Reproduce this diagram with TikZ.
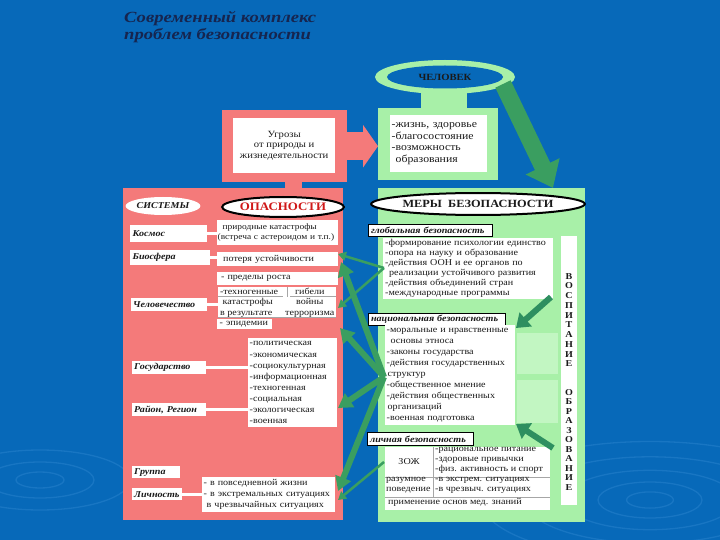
\documentclass[tikz,border=0pt]{standalone}
\usepackage{fontspec}
\setmainfont{Liberation Serif}
\newfontfamily\bodyff[FakeStretch=1.12]{Liberation Serif}
\newfontfamily\ttlff[FakeStretch=1.2]{Liberation Serif}
\usetikzlibrary{shapes.geometric,arrows.meta}
\definecolor{bgblue}{HTML}{0769B9}
\definecolor{ripc}{HTML}{3A8FD6}
\definecolor{lgreen}{HTML}{A8F0A8}
\definecolor{lgreen2}{HTML}{C2F6C2}
\definecolor{pinkc}{HTML}{F47A7A}
\definecolor{arrg}{HTML}{3A9E60}
\definecolor{arrg2}{HTML}{2E8F60}
\definecolor{txt}{HTML}{1A1A1A}
\definecolor{titlec}{HTML}{16254F}
\definecolor{redc}{HTML}{D01818}
\newcommand\bodyfs{\bodyff\fontsize{9}{10.8}\selectfont}
\newcommand\labfs{\bodyff\bfseries\itshape\fontsize{9}{10}\selectfont}
\newcommand\cellfs{\bodyff\fontsize{9}{10}\selectfont}
\tikzset{
  wb/.style={fill=white, inner sep=1.5pt, anchor=north west, font=\bodyfs, align=left, text=txt},
  lab/.style={fill=white, inner sep=1.5pt, anchor=north west, font=\labfs, text=txt, align=left},
  glab/.style={lab, draw=black, line width=1.2pt},
  cell/.style={anchor=north west, inner sep=0, align=left, font=\cellfs, text=txt},
  conn/.style={draw=white, line width=3pt},
  thinar/.style={draw=arrg, line width=2.5pt, -{Triangle[width=9pt,length=8pt]}},
  thickar/.style={draw=arrg, line width=6pt, -{Triangle[width=16pt,length=14pt]}},
  smallar/.style={draw=arrg2, line width=6pt, -{Triangle[width=18pt,length=13pt]}},
  ripple/.style={draw=ripc, line width=1.3pt, opacity=0.35},
  tline/.style={draw=gray!70, line width=0.6pt},
}
\begin{document}
\begin{tikzpicture}[x=1pt,y=-1pt]
\useasboundingbox (0,0) rectangle (720,540);
\fill[bgblue] (0,0) rectangle (720,540);
% ripples
\foreach \r in {18,40,66,96,130}{\draw[ripple] (650,500) ellipse ({\r*1.3} and {\r*0.45});}
\foreach \r in {20,45,75}{\draw[ripple] (40,480) ellipse ({\r*1.2} and {\r*0.4});}

% title
\node[anchor=north west, inner sep=0, align=left, text=titlec,
      font=\ttlff\bfseries\itshape\fontsize{15.5}{17.5}\selectfont] (title) at (124,11)
      {Современный комплекс\\проблем безопасности};

% ЧЕЛОВЕК
\node[ellipse, fill=lgreen, minimum width=140pt, minimum height=34pt, inner sep=0] (chelo) at (445,77) {};
\node[ellipse, fill=bgblue, minimum width=116pt, minimum height=23pt, inner sep=0,
      font=\bodyff\bfseries\fontsize{9.5}{10}\selectfont, text=txt] (chel) at (445,77) {ЧЕЛОВЕК};
\fill[lgreen] (421,92) rectangle (467,110);
\node[fill=lgreen, anchor=north west, minimum width=120pt, minimum height=72pt, inner sep=0] (lifeo) at (378,108) {};
\node[wb, minimum width=97pt, minimum height=57pt, text width=94pt,
      font=\bodyff\fontsize{10.5}{11.7}\selectfont] (life) at (390,115)
      {-жизнь, здоровье\\-благосостояние\\-возможность\\\hspace{4pt}образования};

% Угрозы
\node[fill=pinkc, anchor=north west, minimum width=125pt, minimum height=72pt, inner sep=0] (ugro) at (222,110) {};
\node[fill=white, anchor=north west, minimum width=102pt, minimum height=55pt, inner sep=0, align=center,
      font=\bodyff\fontsize{9.5}{10.5}\selectfont, text=txt] (ugr) at (233,118)
      {Угрозы\\от природы и\\жизнедеятельности};
\draw[pinkc, line width=28pt, -{Triangle[width=42pt,length=15pt]}] (ugro.east) -- (lifeo.west |- ugro.east);
\fill[pinkc] (285,181) rectangle (302,189);

% panels
\node[fill=pinkc, anchor=north west, minimum width=220pt, minimum height=332pt, inner sep=0] (lpan) at (123,188) {};
\node[fill=lgreen, anchor=north west, minimum width=207pt, minimum height=334pt, inner sep=0] (rpan) at (378,188) {};

% big arrow from ЧЕЛОВЕК
\coordinate (ba1) at (503,84);
\coordinate (ba2) at (553,188);
\draw[arrg, line width=17pt, -{Triangle[width=36pt,length=24pt]}] (ba1) -- (ba2);

% left panel
\node[ellipse, fill=white, minimum width=72pt, minimum height=18pt, inner sep=0, font=\labfs, text=txt] (sys) at (163,206) {СИСТЕМЫ};
\node[ellipse, fill=white, draw=black, line width=2pt, minimum width=100pt, minimum height=20pt, inner sep=0,
      font=\bodyff\bfseries\fontsize{11.5}{12}\selectfont, text=redc] (opas) at (283,207) {ОПАСНОСТИ};

\node[lab, minimum width=77pt, minimum height=17pt, text width=72pt] (kos) at (130,225) {Космос};
\node[wb, minimum width=121pt, minimum height=25pt, text width=120pt, inner sep=0.5pt, font=\bodyff\fontsize{8.4}{10.5}\selectfont] (nat1) at (217,220)
      {\hspace{5pt}природные катастрофы\\(встреча с астероидом и т.п.)};
\draw[conn] (kos.east) -- (kos.east -| nat1.west);

\node[lab, minimum width=80pt, minimum height=15pt, text width=75pt] (bio) at (130,250) {Биосфера};
\node[wb, minimum width=121pt, minimum height=14pt, text width=117pt] (bio2) at (217,252) {\hspace{4pt}потеря устойчивости};
\draw[conn] (bio.east) -- (bio.east -| bio2.west);

\node[wb, minimum width=121pt, minimum height=13pt, text width=117pt] (pred) at (217,272) {\hspace{2pt}- пределы роста};
\node[wb, minimum width=118pt, minimum height=31pt, inner sep=0pt] (tech) at (218,287)
      {\fontsize{9}{10.4}\selectfont\begin{tabular}{@{}l@{\hspace{7pt}}c@{}}-техногенные & гибели\\ \ катастрофы & войны\\ в результате & терроризма\end{tabular}};
\draw[tline] (218,296.5) -- (283,296.5) (290,296.5) -- (336,296.5) (287,287) -- (287,296.5) (218,317.5) -- (336,317.5);
\node[wb, minimum width=55pt, minimum height=10pt, text width=52pt, inner sep=1pt] (epid) at (217,319) {\hspace{1pt}- эпидемии};

\node[lab, minimum width=76pt, minimum height=13pt, text width=72pt] (chel2) at (131,298) {Человечество};
\draw[conn] (chel2.east) -- (chel2.east -| tech.west);

\node[wb, minimum width=89pt, minimum height=89pt, text width=86pt, font=\bodyff\fontsize{9}{11.1}\selectfont] (glist) at (248,338)
      {-политическая\\-экономическая\\-социокультурная\\-информационная\\-техногенная\\-социальная\\-экологическая\\-военная};
\node[lab, minimum width=74pt, minimum height=13pt, text width=70pt] (gos) at (132,361) {Государство};
\draw[conn] (gos.east) -- (gos.east -| glist.west);
\node[lab, minimum width=74pt, minimum height=13pt, text width=70pt] (reg) at (132,403) {Район, Регион};
\draw[conn] (reg.east) -- (reg.east -| glist.west);

\node[lab, minimum width=48pt, minimum height=12pt, text width=44pt] (grp) at (132,466) {Группа};
\node[lab, minimum width=50pt, minimum height=12pt, text width=46pt] (lich) at (132,488) {Личность};
\node[wb, minimum width=133pt, minimum height=35pt, text width=130pt, font=\bodyff\fontsize{9}{11}\selectfont] (situ) at (202,477)
      {- в повседневной жизни\\- в экстремальных ситуациях\\\hspace{3pt}в чрезвычайных ситуациях};
\draw[conn] (lich.east) -- (lich.east -| situ.west);

% right panel
\node[ellipse, fill=white, draw=black, line width=2pt, minimum width=191pt, minimum height=22pt, inner sep=0,
      font=\bodyff\bfseries\fontsize{11}{12}\selectfont, text=txt] (meras) at (478,204) {МЕРЫ\ \ БЕЗОПАСНОСТИ};

\node[glab, minimum width=124pt, minimum height=12pt, text width=119pt, inner sep=1pt] (globl) at (368,224) {глобальная безопасность};
\node[wb, minimum width=170pt, minimum height=59pt, text width=166pt, font=\bodyff\fontsize{9}{9.9}\selectfont] (gl) at (383,238)
      {-формирование психологии единство\\-опора на науку и образование\\-действия ООН и ее органов по\\\hspace{4pt}реализации устойчивого развития\\-действия объединений стран\\-международные программы};

\node[fill=white, anchor=north west, minimum width=16pt, minimum height=269pt, inner sep=0] (col) at (561,236) {};
\node[inner sep=0, align=center, font=\bodyff\bfseries\fontsize{9}{9.75}\selectfont, text=txt] (vos) at (569,320)
      {В\\О\\С\\П\\И\\Т\\А\\Н\\И\\Е};
\node[inner sep=0, align=center, font=\bodyff\bfseries\fontsize{9}{9.5}\selectfont, text=txt] (obr) at (569,440)
      {О\\Б\\Р\\А\\З\\О\\В\\А\\Н\\И\\Е};

\fill[lgreen2] (517,333) rectangle (558,374);
\fill[lgreen2] (517,380) rectangle (558,423);

\node[glab, minimum width=137pt, minimum height=12pt, text width=132pt, inner sep=1pt] (natl) at (368,313) {национальная безопасность};
\node[wb, minimum width=130pt, minimum height=100pt, text width=127pt, font=\bodyff\fontsize{9}{10.9}\selectfont] (nl) at (385,325)
      {-моральные и нравственные\\\hspace{4pt}основы этноса\\-законы государства\\-действия государственных\\\hspace{1pt}структур\\-общественное мнение\\-действия общественных\\\hspace{1pt}организаций\\-военная подготовка};

\node[glab, minimum width=106pt, minimum height=13pt, text width=101pt, inner sep=1pt] (persl) at (367,432) {личная безопасность};
\node[fill=white, anchor=north west, minimum width=165pt, minimum height=63pt, inner sep=0] (pt) at (385,447) {};
\draw[tline] (433,447) -- (433,497) (385,477) -- (550,477) (385,497) -- (550,497);
\node[font=\cellfs, text=txt, inner sep=0] (zoj) at (409,462) {ЗОЖ};
\node[cell] (zojl) at (435,447.5) {-рациональное питание\\-здоровые привычки\\-физ. активность и спорт};
\node[cell] (raz) at (386,477.5) {разумное\\поведение};
\node[cell] (razl) at (435,477.5) {-в экстрем. ситуациях\\-в чрезвыч. ситуациях};
\node[cell] (med) at (388,498.5) {применение основ мед. знаний};

% small arrows inside right panel
\coordinate (sa1) at (551,297);
\coordinate (sa1t) at (516,328);
\coordinate (sa2) at (553,448);
\coordinate (sa2t) at (516,424);
\draw[smallar] (sa1) -- (sa1t);
\draw[smallar] (sa2) -- (sa2t);

% arrows between panels
\coordinate (gsrc) at (384,268);
\coordinate (nsrc) at (384,377);
\coordinate (psrc) at (384,462);
\coordinate (gt1) at (338,254);
\coordinate (gt2) at (338,308);
\coordinate (nt1) at (341,262);
\coordinate (nt2) at (340,328);
\coordinate (nt3) at (338,408);
\coordinate (nt4) at (338,491);
\coordinate (pt1) at (338,500);
\draw[thinar] (gsrc) -- (gt1);
\draw[thinar] (gsrc) -- (gt2);
\draw[thickar] (nsrc) -- (nt1);
\draw[thickar] (nsrc) -- (nt2);
\draw[thickar] (nsrc) -- (nt3);
\draw[thickar] (nsrc) -- (nt4);
\draw[thinar] (psrc) -- (pt1);
\end{tikzpicture}
\end{document}
